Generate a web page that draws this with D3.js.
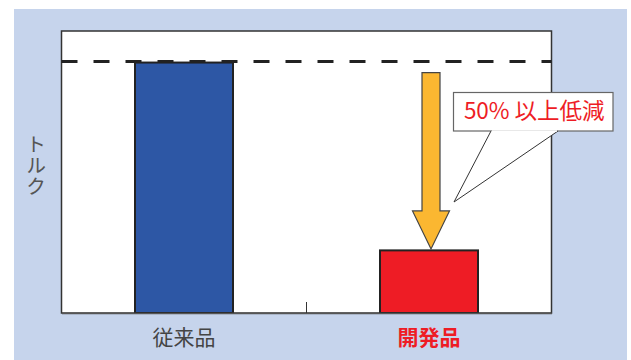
<!DOCTYPE html>
<html>
<head>
<meta charset="utf-8">
<script src="https://cdn.jsdelivr.net/npm/d3@7"></script>
<style>
  html, body { margin: 0; padding: 0; background: #fff; }
  svg { display: block; }
  text { font-family: "Noto Sans CJK JP", "Noto Sans", sans-serif; }
</style>
</head>
<body>
<script>
// Torque comparison: conventional product vs. newly developed product
const categories = ["従来品", "開発品"];
const torqueValues = [100, 25];
const barColors = ["#2d57a5", "#ee1c25"];
const labelColors = ["#444444", "#ee1c25"];
const referenceLevel = [100];
const yAxisTitle = "トルク";
const calloutText = "50% 以上低減";

const W = 631, H = 360;
const plot = { left: 61.5, right: 551.5, top: 31, bottom: 313 };

const svg = d3.select("body").append("svg")
  .attr("width", W).attr("height", H);

// panel background
svg.append("rect")
  .attr("x", 14).attr("y", 9).attr("width", 613).attr("height", H - 9)
  .attr("fill", "#c6d4ec");

// plot area
svg.append("rect")
  .attr("x", plot.left).attr("y", plot.top)
  .attr("width", plot.right - plot.left).attr("height", plot.bottom - plot.top)
  .attr("fill", "#fff").attr("stroke", "#333").attr("stroke-width", 1.5);

const x = d3.scaleBand()
  .domain(categories)
  .range([plot.left, plot.right])
  .paddingInner(0.6)
  .paddingOuter(0.3);

const y = d3.scaleLinear()
  .domain([0, 112.6])
  .range([plot.bottom, plot.top]);

// bars
svg.selectAll("rect.bar")
  .data(categories)
  .join("rect")
  .attr("class", "bar")
  .attr("x", d => x(d))
  .attr("y", (d, i) => y(torqueValues[i]))
  .attr("width", x.bandwidth())
  .attr("height", (d, i) => plot.bottom - y(torqueValues[i]))
  .attr("fill", (d, i) => barColors[i])
  .attr("stroke", "#222")
  .attr("stroke-width", 2);

// dashed reference line at the conventional torque level
svg.selectAll("line.ref")
  .data(referenceLevel)
  .join("line")
  .attr("class", "ref")
  .attr("x1", plot.left).attr("x2", plot.right)
  .attr("y1", d => y(d) - 1).attr("y2", d => y(d) - 1)
  .attr("stroke", "#222")
  .attr("stroke-width", 3)
  .attr("stroke-dasharray", "16,16");

// x axis: line, middle tick and category labels
const xAxis = d3.axisBottom(x).tickSize(0).tickPadding(12);
const gx = svg.append("g")
  .attr("transform", `translate(0,${plot.bottom})`)
  .call(xAxis);
gx.select(".domain").attr("stroke", "#555").attr("stroke-width", 1.5);
gx.selectAll(".tick text")
  .attr("font-size", 21)
  .attr("fill", (d, i) => labelColors[i])
  .attr("font-weight", (d, i) => i === 1 ? "bold" : "normal")
  .attr("dy", "0.95em");

const midX = (x(categories[0]) + x.bandwidth() + x(categories[1])) / 2;
svg.append("line")
  .attr("x1", midX).attr("x2", midX)
  .attr("y1", plot.bottom - 11).attr("y2", plot.bottom)
  .attr("stroke", "#333").attr("stroke-width", 1);

// vertical y-axis title, upright characters
svg.append("text")
  .attr("x", 36)
  .attr("y", 134)
  .attr("font-size", 20)
  .attr("fill", "#555")
  .style("writing-mode", "vertical-rl")
  .style("text-orientation", "upright")
  .style("letter-spacing", "1px")
  .text(yAxisTitle);

// downward arrow from the conventional level to the developed product
const ax = x(categories[1]) + x.bandwidth() / 2 + 2;
const aTop = y(torqueValues[0]) + 10;
const aTip = y(torqueValues[1]) - 1.5;
const shaftHalf = 9, headHalf = 18.5, headLen = 38;
const arrowPts = [
  [ax - shaftHalf, aTop], [ax + shaftHalf, aTop],
  [ax + shaftHalf, aTip - headLen], [ax + headHalf, aTip - headLen],
  [ax, aTip],
  [ax - headHalf, aTip - headLen], [ax - shaftHalf, aTip - headLen]
];
svg.append("path")
  .attr("d", d3.line()(arrowPts) + "Z")
  .attr("fill", "#fbb731")
  .attr("stroke", "#444")
  .attr("stroke-width", 1.2)
  .attr("stroke-linejoin", "miter");

// callout box with pointer
const box = { x: 453.5, y: 92.5, w: 159.5, h: 38.5 };
const tipPt = [454, 202];
svg.append("rect")
  .attr("x", box.x).attr("y", box.y).attr("width", box.w).attr("height", box.h)
  .attr("fill", "#fff").attr("stroke", "#666").attr("stroke-width", 1.2);
svg.append("path")
  .attr("d", d3.line()([[491, box.y + box.h], tipPt, [558, box.y + box.h]]))
  .attr("fill", "#fff").attr("stroke", "#333").attr("stroke-width", 1);
svg.append("line")
  .attr("x1", 492).attr("x2", 557)
  .attr("y1", box.y + box.h).attr("y2", box.y + box.h)
  .attr("stroke", "#fff").attr("stroke-width", 1.6);
svg.append("text")
  .attr("x", box.x + box.w / 2 + 1)
  .attr("y", 118.5)
  .attr("text-anchor", "middle")
  .attr("font-size", 22.5)
  .attr("fill", "#ee1c25")
  .text(calloutText);
</script>
</body>
</html>
